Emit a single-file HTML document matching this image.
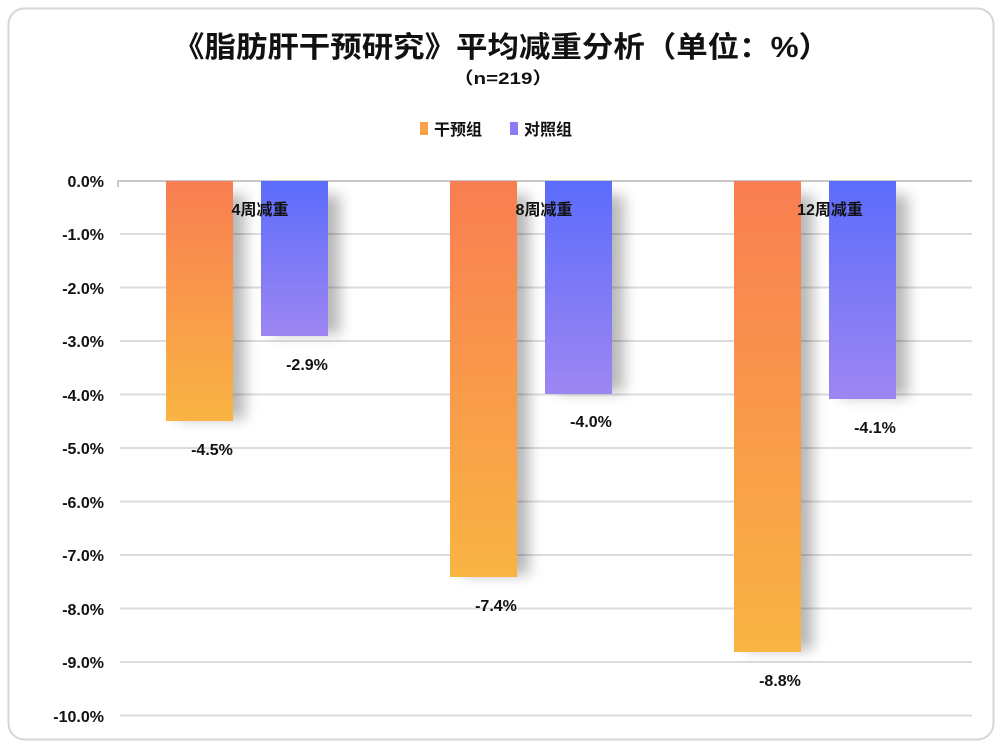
<!DOCTYPE html>
<html><head><meta charset="utf-8"><style>
html,body{margin:0;padding:0;background:#fff;}
text{font-family:"Liberation Sans","Noto Sans CJK SC",sans-serif;}
</style></head><body>
<svg width="1002" height="748" viewBox="0 0 1002 748" xmlns="http://www.w3.org/2000/svg">
<defs>
<linearGradient id="o" x1="0" y1="0" x2="0" y2="1"><stop offset="0" stop-color="#f97e52"/><stop offset="1" stop-color="#f9b443"/></linearGradient>
<linearGradient id="b" x1="0" y1="0" x2="0" y2="1"><stop offset="0" stop-color="#5b6cfb"/><stop offset="1" stop-color="#9e86f2"/></linearGradient>
<filter id="sh" x="-50%" y="-20%" width="200%" height="140%"><feGaussianBlur stdDeviation="7"/></filter>
</defs>
<rect x="8.5" y="8.5" width="985" height="731" rx="16" fill="#fff" stroke="#d6d6d6" stroke-width="2"/>
<text x="173" y="57" textLength="657" lengthAdjust="spacingAndGlyphs" font-size="29" font-weight="bold" fill="#111">《脂肪肝干预研究》平均减重分析（单位：%）</text>
<text x="453" y="84" textLength="100" lengthAdjust="spacingAndGlyphs" font-size="17" font-weight="bold" fill="#111">（n=219）</text>
<rect x="420" y="122" width="8" height="13" fill="#f9a04a"/>
<text x="434" y="135" font-size="16" font-weight="bold" fill="#111">干预组</text>
<rect x="510" y="122" width="8" height="13" fill="#8a7cf5"/>
<text x="524" y="135" font-size="16" font-weight="bold" fill="#111">对照组</text>
<g stroke="#dcdcdc" stroke-width="2">
<line x1="120" y1="234" x2="972" y2="234"/><line x1="120" y1="287.5" x2="972" y2="287.5"/>
<line x1="120" y1="341" x2="972" y2="341"/><line x1="120" y1="394.5" x2="972" y2="394.5"/>
<line x1="120" y1="448" x2="972" y2="448"/><line x1="120" y1="501.5" x2="972" y2="501.5"/>
<line x1="120" y1="555" x2="972" y2="555"/><line x1="120" y1="608.5" x2="972" y2="608.5"/>
<line x1="120" y1="662" x2="972" y2="662"/><line x1="120" y1="715.5" x2="972" y2="715.5"/>
</g>
<g font-size="16" font-weight="bold" fill="#111" text-anchor="end">
<text x="104" y="187">0.0%</text><text x="104" y="240">-1.0%</text><text x="104" y="294">-2.0%</text>
<text x="104" y="347">-3.0%</text><text x="104" y="401">-4.0%</text><text x="104" y="454">-5.0%</text>
<text x="104" y="508">-6.0%</text><text x="104" y="561">-7.0%</text><text x="104" y="615">-8.0%</text>
<text x="104" y="668">-9.0%</text><text x="104" y="722">-10.0%</text>
</g>
<g fill="#000" opacity="0.28" filter="url(#sh)">
<rect x="178" y="195" width="67" height="224"/><rect x="273" y="195" width="67" height="139"/>
<rect x="462" y="195" width="67" height="380"/><rect x="557" y="195" width="67" height="197"/>
<rect x="746" y="195" width="67" height="455"/><rect x="841" y="195" width="67" height="202"/>
</g>
<line x1="118" y1="181" x2="972" y2="181" stroke="#c8c8c8" stroke-width="2"/>
<line x1="118" y1="180" x2="118" y2="187" stroke="#c8c8c8" stroke-width="2"/>
<rect x="166" y="181" width="67" height="240" fill="url(#o)"/>
<rect x="261" y="181" width="67" height="155" fill="url(#b)"/>
<rect x="450" y="181" width="67" height="396" fill="url(#o)"/>
<rect x="545" y="181" width="67" height="213" fill="url(#b)"/>
<rect x="734" y="181" width="67" height="471" fill="url(#o)"/>
<rect x="829" y="181" width="67" height="218" fill="url(#b)"/>
<g font-size="16" font-weight="bold" fill="#111" text-anchor="middle">
<text x="260" y="215">4周减重</text><text x="544" y="215">8周减重</text><text x="830" y="215">12周减重</text>
<text x="212" y="455">-4.5%</text><text x="307" y="370">-2.9%</text>
<text x="496" y="611">-7.4%</text><text x="591" y="427">-4.0%</text>
<text x="780" y="686">-8.8%</text><text x="875" y="433">-4.1%</text>
</g>
</svg>
</body></html>
